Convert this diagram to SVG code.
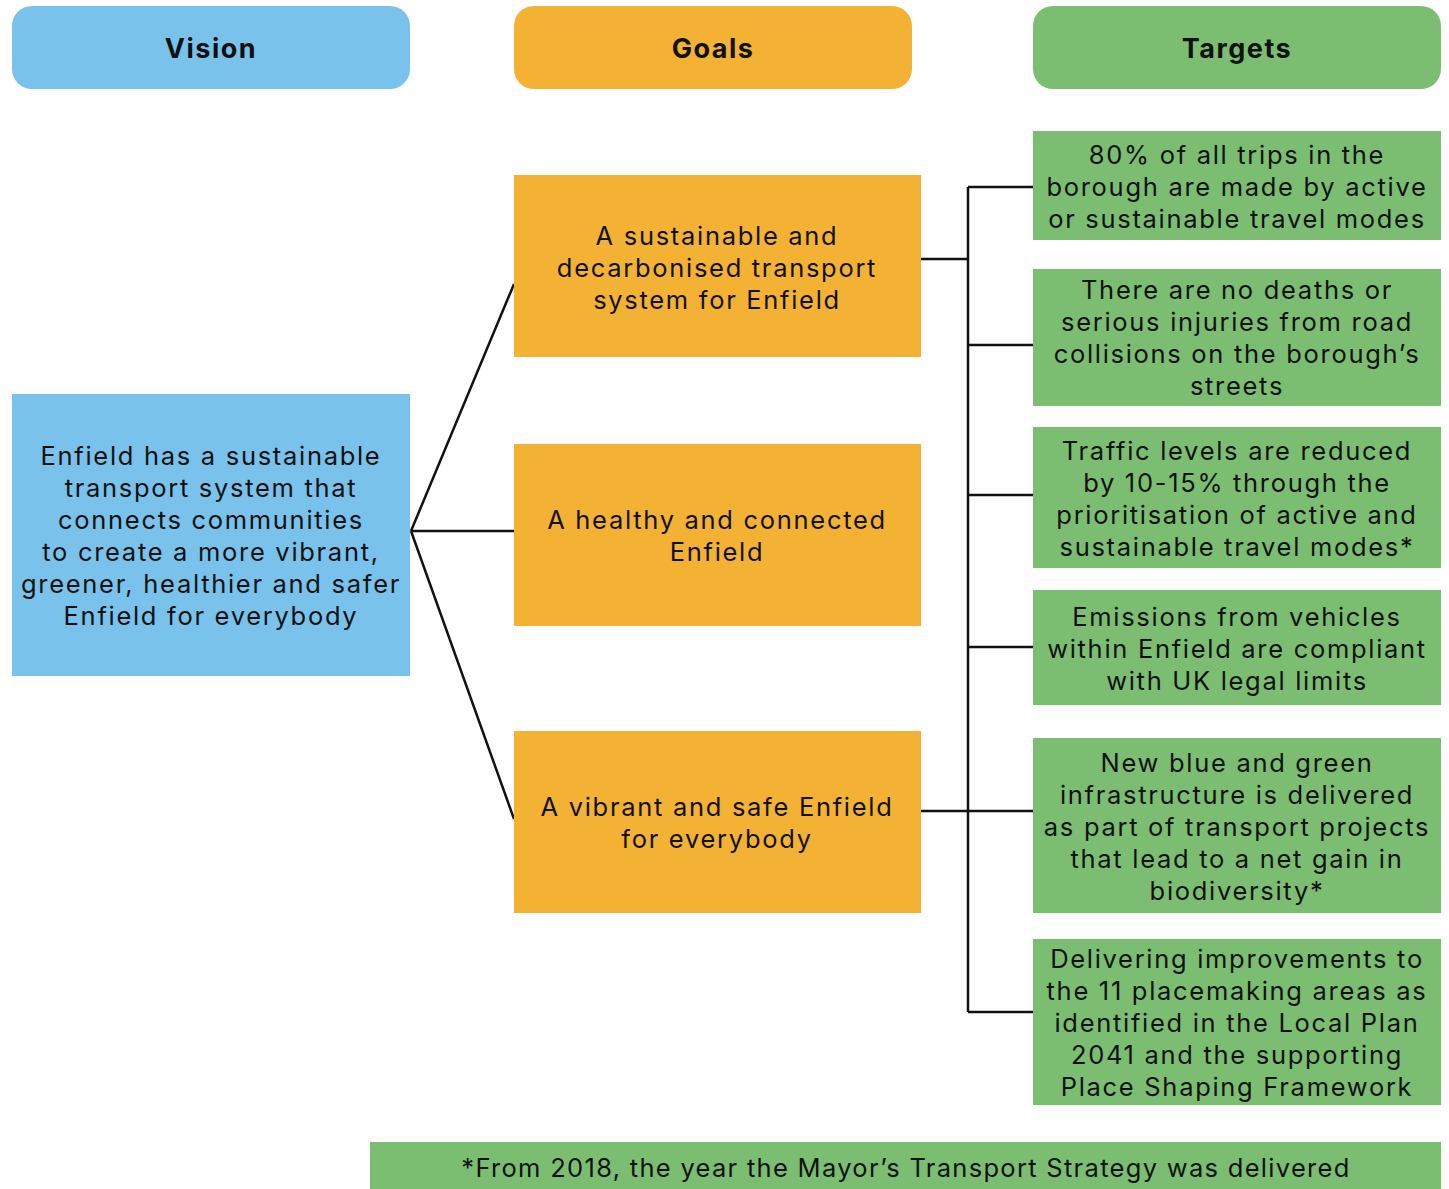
<svg xmlns="http://www.w3.org/2000/svg" width="1449" height="1189" viewBox="0 0 1449 1189">
<style>
.t{font-family:Inter,"Open Sans","Liberation Sans",sans-serif;font-size:25.5px;letter-spacing:1.7px;fill:#111;text-anchor:middle;dominant-baseline:central}
.f{letter-spacing:1.3px}
.h{font-family:Inter,"Open Sans","Liberation Sans",sans-serif;font-size:27px;font-weight:700;letter-spacing:1.5px;fill:#111;text-anchor:middle;dominant-baseline:central}
.blue{fill:#79c2eb}.orange{fill:#f4b234}.green{fill:#7bbe72}
.c{stroke:#111;stroke-width:2.5;fill:none}
</style>
<rect width="1449" height="1189" fill="#fff"/>
<g id="header-vision"><rect class="blue" x="12" y="6" width="398" height="83" rx="20"/><text class="h" x="211" y="48">Vision</text></g>
<g id="header-goals"><rect class="orange" x="514" y="6" width="398" height="83" rx="20"/><text class="h" x="713" y="48">Goals</text></g>
<g id="header-targets"><rect class="green" x="1033" y="6" width="408" height="83" rx="20"/><text class="h" x="1237" y="48">Targets</text></g>
<g id="connectors">
<path class="c" d="M411 531 L514 284 M411 531 L514 531 M411 531 L514 819"/>
<path class="c" d="M921 259 H968 M921 811 H968 M968 187 V1012 M968 187 H1033 M968 345 H1033 M968 495 H1033 M968 647 H1033 M968 811 H1033 M968 1012 H1033"/>
</g>
<g id="vision"><rect class="blue" x="12" y="394" width="398" height="282"/>
<text class="t"><tspan x="211" y="455">Enfield has a sustainable</tspan><tspan x="211" y="487">transport system that</tspan><tspan x="211" y="519">connects communities</tspan><tspan x="211" y="551">to create a more vibrant,</tspan><tspan x="211" y="583">greener, healthier and safer</tspan><tspan x="211" y="615">Enfield for everybody</tspan></text></g>
<g id="goal1"><rect class="orange" x="514" y="175" width="407" height="182"/>
<text class="t"><tspan x="717" y="235">A sustainable and</tspan><tspan x="717" y="267">decarbonised transport</tspan><tspan x="717" y="299">system for Enfield</tspan></text></g>
<g id="goal2"><rect class="orange" x="514" y="444" width="407" height="182"/>
<text class="t"><tspan x="717" y="519">A healthy and connected</tspan><tspan x="717" y="551">Enfield</tspan></text></g>
<g id="goal3"><rect class="orange" x="514" y="731" width="407" height="182"/>
<text class="t"><tspan x="717" y="806">A vibrant and safe Enfield</tspan><tspan x="717" y="838">for everybody</tspan></text></g>
<g id="target1"><rect class="green" x="1033" y="131" width="408" height="109"/>
<text class="t"><tspan x="1237" y="154">80% of all trips in the</tspan><tspan x="1237" y="186">borough are made by active</tspan><tspan x="1237" y="218">or sustainable travel modes</tspan></text></g>
<g id="target2"><rect class="green" x="1033" y="269" width="408" height="137"/>
<text class="t"><tspan x="1237" y="289">There are no deaths or</tspan><tspan x="1237" y="321">serious injuries from road</tspan><tspan x="1237" y="353">collisions on the borough’s</tspan><tspan x="1237" y="385">streets</tspan></text></g>
<g id="target3"><rect class="green" x="1033" y="427" width="408" height="141"/>
<text class="t"><tspan x="1237" y="450">Traffic levels are reduced</tspan><tspan x="1237" y="482">by 10-15% through the</tspan><tspan x="1237" y="514">prioritisation of active and</tspan><tspan x="1237" y="546">sustainable travel modes*</tspan></text></g>
<g id="target4"><rect class="green" x="1033" y="590" width="408" height="115"/>
<text class="t"><tspan x="1237" y="616">Emissions from vehicles</tspan><tspan x="1237" y="648">within Enfield are compliant</tspan><tspan x="1237" y="680">with UK legal limits</tspan></text></g>
<g id="target5"><rect class="green" x="1033" y="738" width="408" height="175"/>
<text class="t"><tspan x="1237" y="762">New blue and green</tspan><tspan x="1237" y="794">infrastructure is delivered</tspan><tspan x="1237" y="826">as part of transport projects</tspan><tspan x="1237" y="858">that lead to a net gain in</tspan><tspan x="1237" y="890">biodiversity*</tspan></text></g>
<g id="target6"><rect class="green" x="1033" y="939" width="408" height="166"/>
<text class="t"><tspan x="1237" y="958">Delivering improvements to</tspan><tspan x="1237" y="990">the 11 placemaking areas as</tspan><tspan x="1237" y="1022">identified in the Local Plan</tspan><tspan x="1237" y="1054">2041 and the supporting</tspan><tspan x="1237" y="1086">Place Shaping Framework</tspan></text></g>
<g id="footnote"><rect class="green" x="370" y="1142" width="1071" height="47"/>
<text class="t f" x="906" y="1167">*From 2018, the year the Mayor’s Transport Strategy was delivered</text></g>
</svg>
